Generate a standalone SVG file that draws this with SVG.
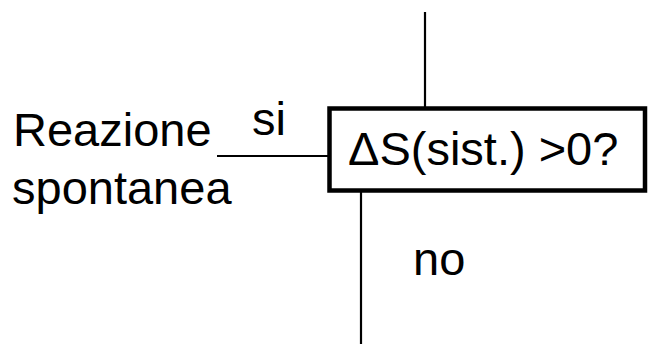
<svg xmlns="http://www.w3.org/2000/svg" width="648" height="344" viewBox="0 0 648 344">
  <style>
    .lbl { font-family: "Liberation Sans", Arial, sans-serif; font-size: 47px; fill: #000; }
    .wire { stroke: #000; stroke-width: 2.2; fill: none; }
    .box { fill: #fff; stroke: #000; stroke-width: 4.5; }
  </style>
  <rect width="648" height="344" fill="#fff"/>
  <g id="connectors">
    <line class="wire" x1="425" y1="12" x2="425" y2="107"/>
    <line class="wire" x1="217" y1="156" x2="328" y2="156"/>
    <line class="wire" x1="361" y1="192" x2="361" y2="344"/>
    <text class="lbl" x="252" y="135">si</text>
    <text class="lbl" x="413" y="275">no</text>
  </g>
  <g id="result">
    <text class="lbl" x="13" y="146">Reazione</text>
    <text class="lbl" x="12" y="204">spontanea</text>
  </g>
  <g id="decision">
    <rect class="box" x="329.5" y="108.5" width="315.5" height="82"/>
    <text class="lbl" x="348" y="165">ΔS(sist.) &gt;0?</text>
  </g>
</svg>
